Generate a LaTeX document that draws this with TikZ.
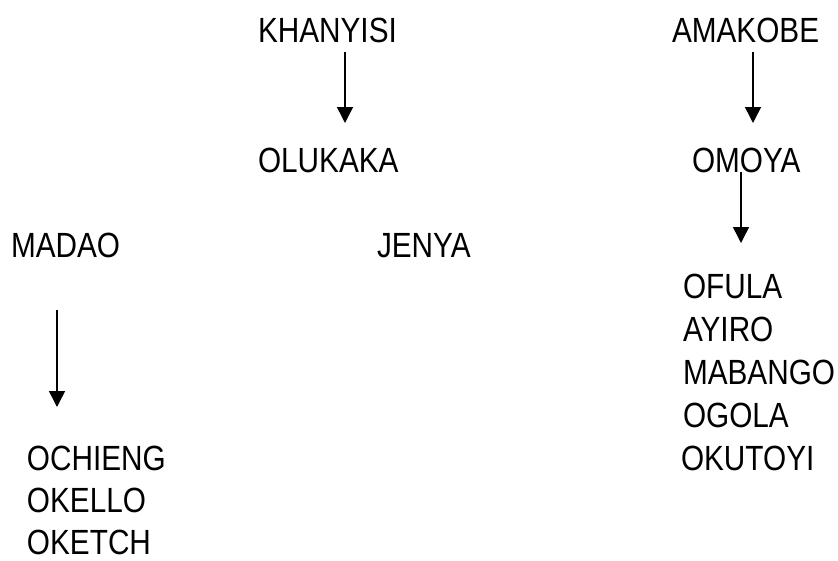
\documentclass[tikz,border=0pt]{standalone}
\usepackage{fontspec}
\setmainfont{Liberation Sans}
\newfontfamily\namefont[FakeStretch=0.85]{Liberation Sans}
\usetikzlibrary{arrows.meta}
\begin{document}
\begin{tikzpicture}[x=1pt,y=-1pt,
  nm/.style={anchor=base west,inner sep=0pt,outer sep=0pt,text depth=0pt,font=\namefont\fontsize{35}{42}\selectfont},
  arr/.style={line width=1.5pt,-{Triangle[width=16pt,length=16pt]}}]
\useasboundingbox[fill=white] (0,0) rectangle (838,560);
\node[nm] (khanyisi) at (258,42) {KHANYISI};
\node[nm] (olukaka) at (258,172) {OLUKAKA};
\node[nm] (amakobe) at (672,42) {AMAKOBE};
\node[nm] (omoya) at (692,172) {OMOYA};
\node[nm] (madao) at (11,257) {MADAO};
\node[nm] (jenya) at (377,257) {JENYA};
\node[nm] (ochieng) at (27,470) {OCHIENG};
\node[nm] (okello) at (27,512.5) {OKELLO};
\node[nm] (oketch) at (27,554) {OKETCH};
\node[nm] (ofula) at (683,298) {OFULA};
\node[nm] (ayiro) at (683,341) {AYIRO};
\node[nm] (mabango) at (683,384) {MABANGO};
\node[nm] (ogola) at (683,427) {OGOLA};
\node[nm] (okutoyi) at (681,470) {OKUTOYI};
\coordinate (a1s) at (345,52);
\coordinate (a1e) at (345,123);
\coordinate (a2s) at (753,52);
\coordinate (a2e) at (753,123);
\coordinate (a3s) at (741,172);
\coordinate (a3e) at (741,243);
\coordinate (a4s) at (57,310);
\coordinate (a4e) at (57,407);
\draw[arr] (a1s) -- (a1e);
\draw[arr] (a2s) -- (a2e);
\draw[arr] (a3s) -- (a3e);
\draw[arr] (a4s) -- (a4e);
\end{tikzpicture}
\end{document}
